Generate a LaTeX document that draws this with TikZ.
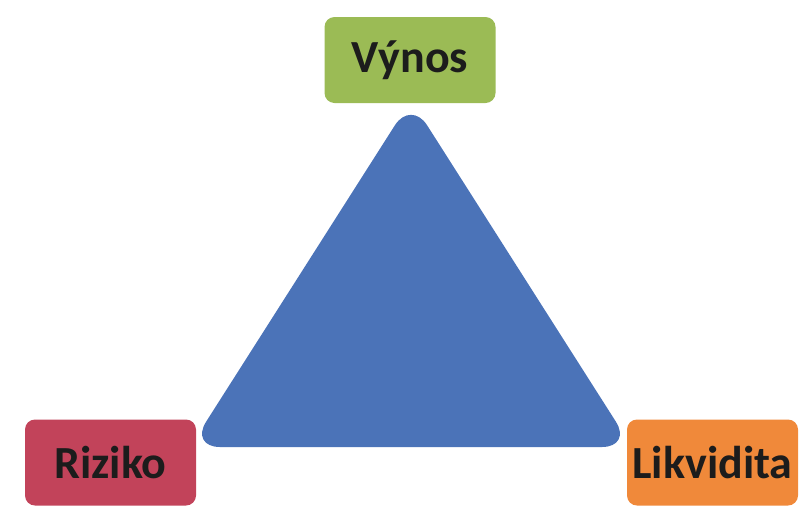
\documentclass[tikz,border=0pt]{standalone}
\usepackage{fontspec}
\setmainfont{Carlito}
\usepackage{tikz}
\usetikzlibrary{positioning, calc}

\definecolor{vynosgreen}{HTML}{9BBB55}
\definecolor{rizikored}{HTML}{C2435A}
\definecolor{likvorange}{HTML}{F0893A}
\definecolor{triblue}{HTML}{4B73B8}
\definecolor{labeltext}{HTML}{1C1C1C}

\begin{document}
\begin{tikzpicture}[
  x=1pt, y=-1pt,
  box/.style={rectangle, rounded corners=10pt, draw=none, inner sep=0pt,
    minimum width=171pt, minimum height=86pt, text=labeltext,
    font=\fontsize{46}{55}\selectfont\bfseries},
  tri/.style={fill=triblue, rounded corners=30pt}
]
\useasboundingbox (0,0) rectangle (802,507);

% Corners of the triangle
\coordinate (top) at (411,100);
\coordinate (left) at (190,447);
\coordinate (right) at (632,447);

% Triangle
\fill[tri] (top) -- (left) -- (right) -- cycle;

% Labels
\node[box, fill=vynosgreen] (vynos) at (410,60) {Výnos};
\node[box, fill=rizikored] (riziko) at (110.5,462.5) {Riziko};
\node[box, fill=likvorange] (likvidita) at (712.5,462.5) {Likvidita};

\end{tikzpicture}
\end{document}
